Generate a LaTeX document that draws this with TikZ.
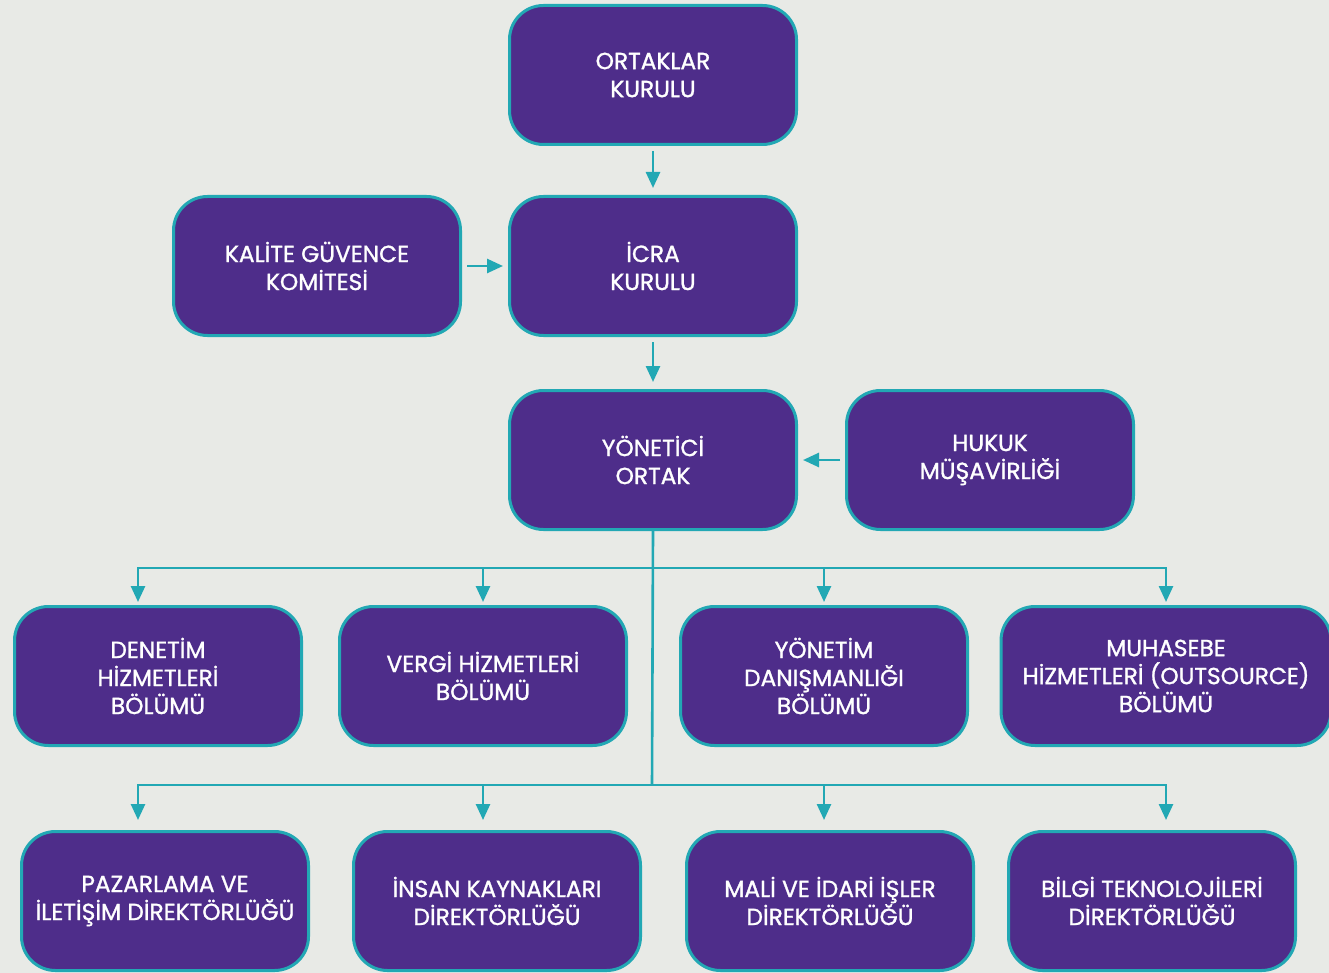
\documentclass[tikz,border=0pt]{standalone}
\usepackage{fontspec}
\setmainfont{Poppins}
\newfontfamily\boxfont{Poppins}[FakeBold=1.2]
\usetikzlibrary{arrows.meta}
\definecolor{bgcol}{HTML}{E8EAE6}
\definecolor{purp}{HTML}{4E2D8A}
\definecolor{tealc}{HTML}{22A8B4}
\tikzset{
  unit/.style={draw=tealc, line width=3pt, fill=purp, rounded corners=34pt,
    minimum width=287pt, minimum height=139pt, inner sep=0pt, align=center,
    text=white, font=\boxfont\fontsize{23.3}{28}\selectfont},
  link/.style={draw=tealc, line width=2.6pt, -{Triangle[length=16pt,width=14pt]}},
  bus/.style={draw=tealc, line width=2.6pt},
}
\begin{document}
\begin{tikzpicture}[x=1pt,y=-1pt]
\fill [bgcol] (0,0) rectangle (1329,973);
\useasboundingbox (0,0) rectangle (1329,973);

\node [unit] (ortak) at (653,75) {ORTAKLAR\\KURULU};
\node [unit] (icra) at (653,266) {İCRA\\KURULU};
\node [unit] (kalite) at (317,266) {KALİTE GÜVENCE\\KOMİTESİ};
\node [unit] (yonetici) at (653,460) {YÖNETİCİ\\ORTAK};
\node [unit] (hukuk) at (990,460) {HUKUK\\MÜŞAVİRLİĞİ};

% bolumler
\node [unit] (denetim) at (158,676) {DENETİM\\HİZMETLERİ\\BÖLÜMÜ};
\node [unit] (vergi) at (483,676) {VERGİ HİZMETLERİ\\BÖLÜMÜ};
\node [unit] (danis) at (824,676) {YÖNETİM\\DANIŞMANLIĞI\\BÖLÜMÜ};
\node [unit, minimum width=330pt] (muhasebe) at (1166,676) {MUHASEBE\\HİZMETLERİ (OUTSOURCE)\\BÖLÜMÜ};

% direktorlukler
\node [unit] (pazar) at (165,901) {PAZARLAMA VE\\İLETİŞİM DİREKTÖRLÜĞÜ};
\node [unit] (insan) at (497,901) {İNSAN KAYNAKLARI\\DİREKTÖRLÜĞÜ};
\node [unit] (mali) at (830,901) {MALİ VE İDARİ İŞLER\\DİREKTÖRLÜĞÜ};
\node [unit] (bilgi) at (1152,901) {BİLGİ TEKNOLOJİLERİ\\DİREKTÖRLÜĞÜ};

\draw [link, shorten <=5pt, shorten >=7pt] (ortak) -- (icra);
\draw [link, shorten <=5pt, shorten >=7pt] (icra) -- (yonetici);
\draw [link, shorten <=5pt, shorten >=5pt] (kalite) -- (icra);
\draw [link, shorten <=5pt, shorten >=5pt] (hukuk) -- (yonetici);

\coordinate (bus1) at (652,568);
\coordinate (bus2) at (652,785);
\draw [bus] (yonetici.south) -- (bus2);
\foreach \n/\x in {denetim/138, vergi/483, danis/824, muhasebe/1166}
  \draw [link, shorten >=3pt] (bus1) -| (\n.north -| \x,0);
\foreach \n/\x in {pazar/138, insan/483, mali/824, bilgi/1166}
  \draw [link, shorten >=10pt] (bus2) -| (\n.north -| \x,0);
\end{tikzpicture}
\end{document}
